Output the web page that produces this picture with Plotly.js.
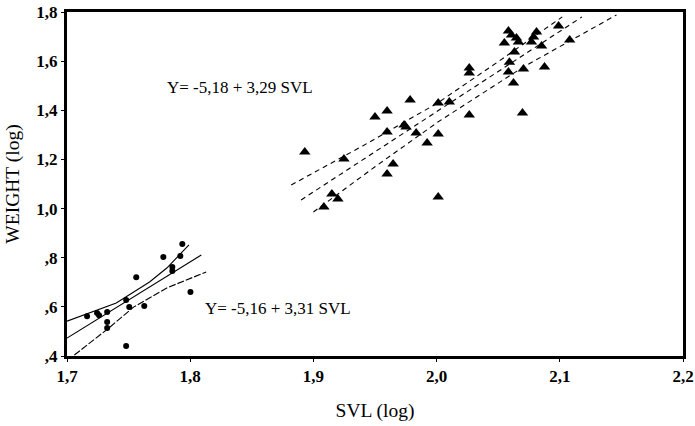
<!DOCTYPE html>
<html>
<head>
<meta charset="utf-8">
<script src="https://cdn.plot.ly/plotly-3.0.1.min.js"></script>
<style>html,body{margin:0;padding:0;background:#fff;}#chart{width:695px;height:426px;}</style>
</head>
<body>
<div id="chart"></div>
<script>
// Lower group (dots)
const dotSVL = [1.7163,1.7244,1.7260,1.7326,1.7326,1.7326,1.7480,1.7505,1.7562,1.7627,1.7782,1.7855,1.7855,1.7920,1.7936,1.8002,1.7480];
const dotW   = [0.562,0.575,0.566,0.579,0.538,0.514,0.628,0.599,0.721,0.603,0.803,0.762,0.746,0.807,0.856,0.660,0.441];

// Lower group regression and confidence lines
const lowFitX = [1.700, 1.809];
const lowFitY = [0.473, 0.811];
const lowUpX  = [1.700, 1.740, 1.767, 1.781, 1.799];
const lowUpY  = [0.542, 0.616, 0.701, 0.758, 0.852];
const lowLoX  = [1.706, 1.734, 1.754, 1.781, 1.813];
const lowLoY  = [0.404, 0.514, 0.599, 0.677, 0.742];

// Upper group (triangles)
const triSVL = [1.8930,1.9085,1.9150,1.9199,1.9248,1.9500,1.9598,1.9598,1.9598,1.9647,1.9736,1.9752,1.9785,1.9834,1.9923,2.0013,2.0013,2.0013,2.0103,2.0265,2.0265,2.0265,2.0550,2.0583,2.0607,2.0648,2.0664,2.0632,2.0591,2.0583,2.0705,2.0624,2.0697,2.0770,2.0787,2.0811,2.0852,2.0876,2.0990,2.1080];
const triW   = [1.230,1.006,1.059,1.039,1.202,1.373,1.397,1.312,1.141,1.181,1.340,1.332,1.442,1.308,1.267,1.430,1.303,1.047,1.434,1.572,1.552,1.381,1.674,1.723,1.706,1.694,1.678,1.637,1.596,1.556,1.568,1.511,1.389,1.678,1.698,1.719,1.662,1.576,1.743,1.686];

// Upper group regression and confidence lines
const upFitX = [1.890, 2.118];
const upFitY = [1.035, 1.780];
const upUpX  = [1.882, 1.940, 2.001, 2.050, 2.102];
const upUpY  = [1.096, 1.255, 1.430, 1.598, 1.780];
const upLoX  = [1.900, 1.950, 2.001, 2.070, 2.146];
const upLoY  = [0.986, 1.170, 1.352, 1.575, 1.788];

const tickX = [1.7, 1.8, 1.9, 2.0, 2.1, 2.2];
const tickXText = ['1,7','1,8','1,9','2,0','2,1','2,2'];
const tickY = [0.4, 0.6, 0.8, 1.0, 1.2, 1.4, 1.6, 1.8];
const tickYText = [',4',',6',',8','1,0','1,2','1,4','1,6','1,8'];

const eqUpper = 'Y= -5,18 + 3,29 SVL';
const eqLower = 'Y= -5,16 + 3,31 SVL';

const serif = 'Liberation Serif, Times New Roman, serif';
const line = (x, y, dash) => ({x, y, mode:'lines', type:'scatter', hoverinfo:'skip',
  line:{color:'#000', width:1.1, dash:dash}});

const data = [
  line(lowUpX, lowUpY, 'solid'),
  line(lowFitX, lowFitY, 'solid'),
  line(lowLoX, lowLoY, '7px,2px'),
  line(upUpX, upUpY, '5px,4px'),
  line(upFitX, upFitY, '5px,4px'),
  line(upLoX, upLoY, '5px,4px'),
  {x: dotSVL, y: dotW, mode:'markers', type:'scatter',
   marker:{symbol:'circle', size:6, color:'#000'}},
  {x: triSVL, y: triW, mode:'markers', type:'scatter',
   marker:{symbol:'triangle-up', size:10, color:'#000'}}
];

const tickFont = {family:serif, size:17, color:'#000', weight:'bold'};
const titleFont = {family:serif, size:19.5, color:'#000'};

const layout = {
  width: 695, height: 426,
  margin: {l:67, r:12, t:12, b:70},
  paper_bgcolor:'#fff', plot_bgcolor:'#fff',
  showlegend:false,
  font:{family: serif, color:'#000', size:14},
  xaxis:{range:[1.7,2.2], tickvals:tickX, ticktext:tickXText,
    showgrid:false, zeroline:false, showline:true, mirror:true, linewidth:3, linecolor:'#000',
    ticks:'outside', ticklen:3, tickcolor:'#000',
    tickfont:tickFont,
    title:{text:'SVL (log)', font:titleFont, standoff:18}},
  yaxis:{range:[0.4,1.8], tickvals:tickY, ticktext:tickYText,
    showgrid:false, zeroline:false, showline:true, mirror:true, linewidth:3, linecolor:'#000',
    ticks:'outside', ticklen:3, tickcolor:'#000',
    tickfont:tickFont,
    title:{text:'WEIGHT (log)', font:titleFont, standoff:12}},
  annotations:[
    {x:1.7798, y:1.491, xref:'x', yref:'y', text:eqUpper, showarrow:false, xanchor:'left', yanchor:'middle',
     font:{family:serif, size:17, color:'#000'}},
    {x:1.8107, y:0.595, xref:'x', yref:'y', text:eqLower, showarrow:false, xanchor:'left', yanchor:'middle',
     font:{family:serif, size:17, color:'#000'}}
  ]
};

Plotly.newPlot('chart', data, layout, {displayModeBar:false, staticPlot:true});
</script>
</body>
</html>
